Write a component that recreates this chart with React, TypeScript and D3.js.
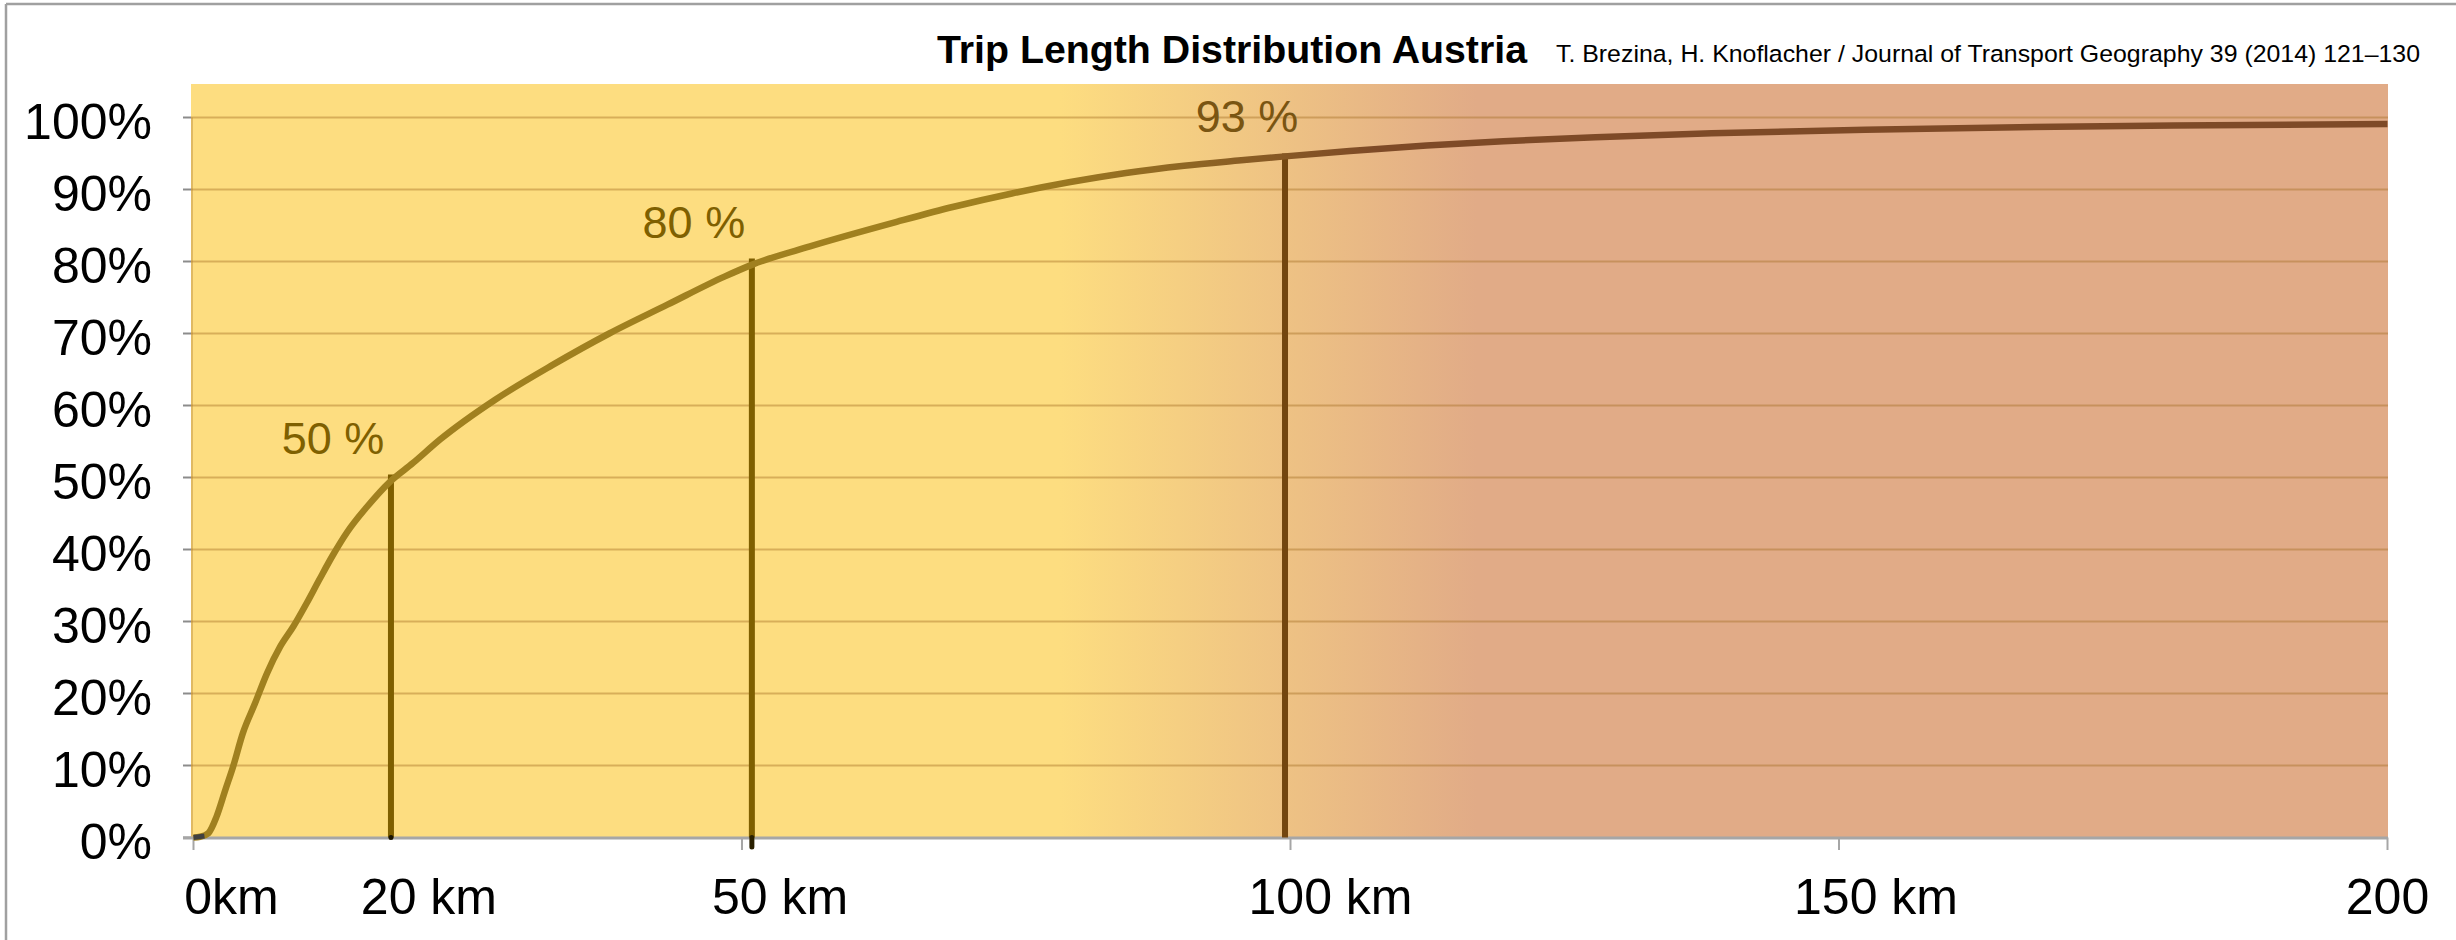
import React from "react";
import * as d3 from "d3";

// ---------- data ----------
const distanceKm = [0, 0.6, 1.35, 2.1, 2.9, 3.6, 4.5, 5.6, 6.7, 7.9, 9.1, 10.3, 11.5, 12.7, 14.0, 15.8, 17.9, 20.0, 22.5, 27.5, 32.7, 37.9, 43.2, 48.4, 51.0, 56.2, 64.1, 69.3, 74.6, 79.8, 85.0, 90.3, 95.5, 99.5, 105.4, 112.4, 119.4, 127.8, 138.4, 152.4, 166.4, 180.5, 200];
const cumulativeShare = [0, 0.1, 0.6, 2.9, 6.6, 9.8, 14.5, 18.6, 22.8, 26.5, 29.3, 32.5, 35.9, 39.2, 42.4, 45.9, 49.4, 52.0, 55.3, 60.8, 65.6, 70.0, 74.0, 77.9, 79.6, 82.1, 85.5, 87.6, 89.45, 91.0, 92.3, 93.3, 94.05, 94.6, 95.35, 96.1, 96.7, 97.25, 97.8, 98.3, 98.65, 98.9, 99.1];

const originKm = [0, 1.0];
const originShare = [0, 0.2];

const markerKm = [18.0, 50.9, 99.5];
const markerTopShare = [50, 80, 94.6];
const markerShareLabels = ["50 %", "80 %", "93 %"];

const yTickValues = [0, 10, 20, 30, 40, 50, 60, 70, 80, 90, 100];
const yTickLabels = ["0%", "10%", "20%", "30%", "40%", "50%", "60%", "70%", "80%", "90%", "100%"];

const xTickValues = [0, 50, 100, 150, 200];
const xLabelKm = [0, 18.0, 50, 100, 150, 200];
const xLabelTexts = ["0km", "20 km", "50 km", "100 km", "150 km", "200"];

const titleText = "Trip Length Distribution Austria";
const sourceText = "T. Brezina, H. Knoflacher / Journal of Transport Geography 39 (2014) 121\u2013130";

// ---------- layout & style ----------
const W = 2456;
const H = 940;
const FONT = "'Liberation Sans', Arial, Helvetica, sans-serif";
const PLOT_LEFT = 191;
const PLOT_RIGHT = 2388;
const PLOT_TOP = 84;
const PLOT_BOTTOM = 837.5;

const YELLOW = "#FDDD80";
const SALMON = "#E1AB87";
const GRID = "rgba(165,110,35,0.42)";
const AXIS_GRAY = "#A6A6A6";
const markerColors = ["#7F5F00", "#7F5F00", "#73460F"];
const markerLabelColors = ["#7F6000", "#7F6000", "#7A5512"];
const markerLabelDx = [-58, -58, -38];
const xLabelDx = [38, 38, 38, 40, 37, 0];

export default function App() {
  const x = d3.scaleLinear().domain([0, 200]).range([193.5, 2387.5]);
  const y = d3.scaleLinear().domain([0, 100]).range([837.5, 117.5]);

  const pts = distanceKm.map((d, i) => [d, cumulativeShare[i]] as [number, number]);
  const line = d3
    .line<[number, number]>()
    .x((d) => x(d[0]))
    .y((d) => y(d[1]))
    .curve(d3.curveMonotoneX);
  const originPts = originKm.map((d, i) => [d, originShare[i]] as [number, number]);

  return (
    <svg
      width={W}
      height={H}
      style={{ position: "absolute", left: 0, top: 0, background: "#fff" }}
      fontFamily={FONT}
    >
      <defs>
        <linearGradient id="bgGrad" gradientUnits="userSpaceOnUse" x1={x(79)} x2={x(117)} y1={0} y2={0}>
          <stop offset="0" stopColor={YELLOW} />
          <stop offset="1" stopColor={SALMON} />
        </linearGradient>
        <linearGradient id="lineGrad" gradientUnits="userSpaceOnUse" x1={x(74)} x2={x(108)} y1={0} y2={0}>
          <stop offset="0" stopColor="#A0801F" />
          <stop offset="1" stopColor="#7E4A27" />
        </linearGradient>
      </defs>

      {/* frame */}
      <line x1={6} x2={W} y1={4} y2={4} stroke="#A0A0A0" strokeWidth={2.5} />
      <line x1={6} x2={6} y1={4} y2={H} stroke="#A0A0A0" strokeWidth={2.5} />

      {/* title */}
      <text x={937} y={63} fontSize={38} fontWeight="bold" fill="#000" textLength={590} lengthAdjust="spacingAndGlyphs">
        {titleText}
      </text>
      <text x={1556} y={62} fontSize={24.5} fill="#000" textLength={864} lengthAdjust="spacingAndGlyphs">
        {sourceText}
      </text>

      {/* plot background */}
      <rect x={PLOT_LEFT} y={PLOT_TOP} width={PLOT_RIGHT - PLOT_LEFT} height={PLOT_BOTTOM - PLOT_TOP} fill="url(#bgGrad)" />

      {/* y axis line */}
      <line x1={192} x2={192} y1={y(100)} y2={y(0)} stroke={GRID} strokeWidth={1.5} />

      {/* gridlines */}
      {yTickValues
        .filter((v) => v > 0)
        .map((v) => (
          <line key={"g" + v} x1={PLOT_LEFT} x2={PLOT_RIGHT} y1={y(v)} y2={y(v)} stroke={GRID} strokeWidth={2} />
        ))}
      {/* y tick marks */}
      {yTickValues.map((v) => (
        <line key={"yt" + v} x1={183} x2={PLOT_LEFT} y1={y(v)} y2={y(v)} stroke="#8C8C8C" strokeWidth={2} />
      ))}
      {/* y labels */}
      {yTickValues.map((v, i) => (
        <text key={"yl" + v} x={152} y={y(v) + 21} fontSize={50} textAnchor="end" fill="#000">
          {yTickLabels[i]}
        </text>
      ))}

      {/* x axis */}
      <line x1={183} x2={PLOT_RIGHT} y1={y(0) + 0.5} y2={y(0) + 0.5} stroke={AXIS_GRAY} strokeWidth={3} />
      {xTickValues.map((v) => (
        <line key={"xt" + v} x1={x(v)} x2={x(v)} y1={y(0)} y2={850} stroke={AXIS_GRAY} strokeWidth={2} />
      ))}
      {xLabelKm.map((v, i) => (
        <text key={"xl" + i} x={x(v) + xLabelDx[i]} y={914} fontSize={50} textAnchor="middle" fill="#000">
          {xLabelTexts[i]}
        </text>
      ))}

      {/* marker lines */}
      {markerKm.map((k, i) => (
        <line
          key={"m" + i}
          x1={x(k)}
          x2={x(k)}
          y1={y(markerTopShare[i]) - 3}
          y2={y(0)}
          stroke={markerColors[i]}
          strokeWidth={6}
        />
      ))}
      <line x1={x(markerKm[1])} x2={x(markerKm[1])} y1={y(0)} y2={847} stroke="#2A2000" strokeWidth={5} strokeLinecap="round" />
      <circle cx={x(markerKm[0])} cy={y(0)} r={2.5} fill="#1A1400" />

      {/* curve */}
      <path d={line(pts) || ""} fill="none" stroke="url(#lineGrad)" strokeWidth={6.5} strokeLinejoin="round" />
      <path d={line(originPts) || ""} fill="none" stroke="#404040" strokeWidth={5} />

      {/* marker share labels */}
      {markerKm.map((k, i) => (
        <text
          key={"ml" + i}
          x={x(k) + markerLabelDx[i]}
          y={y(markerTopShare[i]) - 24}
          fontSize={45}
          textAnchor="middle"
          fill={markerLabelColors[i]}
        >
          {markerShareLabels[i]}
        </text>
      ))}
    </svg>
  );
}
